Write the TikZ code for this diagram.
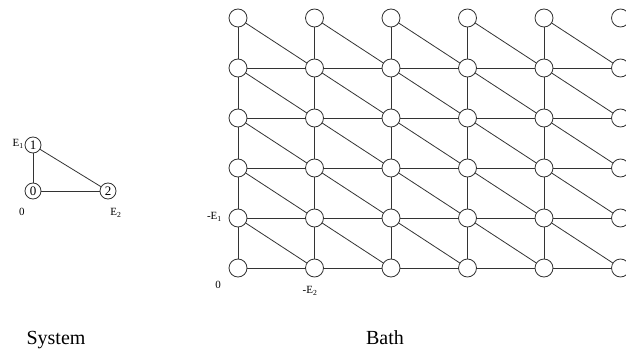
\documentclass[tikz,border=0pt]{standalone}
\usepackage{fontspec}
\setmainfont{Liberation Serif}
\begin{document}
\begin{tikzpicture}[x=1pt,y=-1pt,
  site/.style={circle,draw=black!80,line width=0.8pt,fill=white,minimum size=18pt,inner sep=0pt},
  ssite/.style={circle,draw=black!80,line width=0.8pt,fill=white,minimum size=16pt,inner sep=0pt,font=\fontsize{13}{13}\selectfont},
  bond/.style={draw=black!80,line width=0.8pt},
  lab/.style={inner sep=0pt,font=\fontsize{11}{11}\selectfont},
  captxt/.style={inner sep=0pt,font=\fontsize{20}{20}\selectfont,anchor=base}]
\useasboundingbox (0,0) rectangle (626,350);
\clip (0,0) rectangle (626,350);
% bath sites
\foreach \i in {0,...,5}{
  \foreach \r in {0,...,5}{
    \coordinate (p\i\r) at ({238+76.5*\i},{18+50*\r});
  }
}
\foreach \i in {0,...,4}{
  \pgfmathtruncatemacro{\ni}{\i+1}
  \foreach \r in {0,...,4}{
    \pgfmathtruncatemacro{\nr}{\r+1}
    \draw[bond] (p\i\r) -- (p\i\nr);
    \draw[bond] (p\i\r) -- (p\ni\nr);
    \draw[bond] (p\i\nr) -- (p\ni\nr);
  }
}
\foreach \i in {0,...,5}{
  \foreach \r in {0,...,5}{
    \node[site] (b\i\r) at (p\i\r) {};
  }
}
% bath labels
\node[lab,anchor=east] (lE1) at (222,217) {-E\textsubscript{1}};
\node[lab] (l0b) at (218,285) {0};
\node[lab] (lE2) at (310,291) {-E\textsubscript{2}};
% system
\node[ssite] (s1) at (33,145) {1};
\node[ssite] (s0) at (33,191) {0};
\node[ssite] (s2) at (108,191) {2};
\draw[bond] (s1) -- (s0);
\draw[bond] (s0) -- (s2);
\draw[bond] (s1) -- (s2);
\node[lab,anchor=east] (sE1) at (24,144) {E\textsubscript{1}};
\node[lab] (s0l) at (22,212) {0};
\node[lab] (sE2) at (116,213) {E\textsubscript{2}};
% captions
\node[captxt] (csys) at (56,344) {System};
\node[captxt] (cbath) at (385,344) {Bath};
\end{tikzpicture}
\end{document}
